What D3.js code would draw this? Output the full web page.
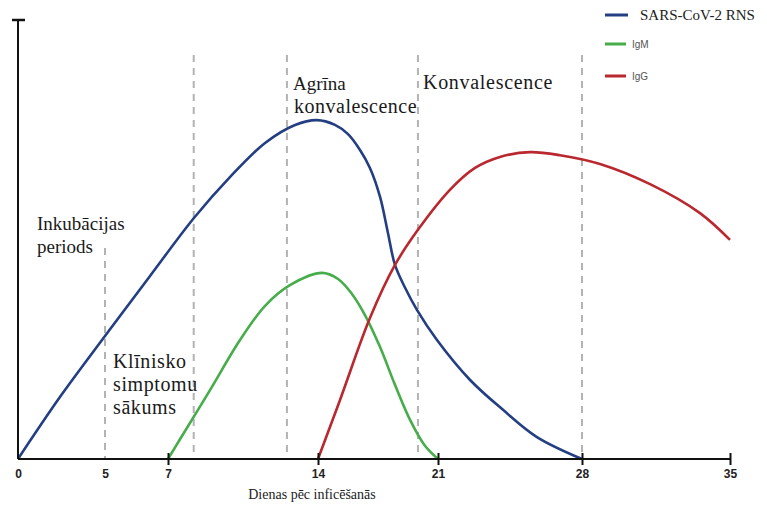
<!DOCTYPE html>
<html>
<head>
<meta charset="utf-8">
<script src="https://cdn.jsdelivr.net/npm/d3@7/dist/d3.min.js"></script>
<style>
body{margin:0;background:#fff;}
svg{display:block;}
</style>
</head>
<body>
<div id="chart"></div>
<script>
// days on the axis (axis in the picture is hand drawn, not evenly spaced)
var tickDays = [0, 5, 7, 14, 21, 28, 35];
var tickPx   = [18, 105, 168, 318, 438, 582, 730];
var phaseLines = [5, 8.2, 12.55, 19.83, 28];

// [day, relative level]
var rnaData = [[0,0],[2.41,14.1],[5,28.0],[6.43,41.7],[8.21,54.9],[9.89,64.2],[11.53,72.0],
  [12.93,76.1],[13.95,77.2],[14.99,76.1],[15.75,74.0],[16.45,70.4],[17.03,66.3],[17.62,59.7],
  [18.08,51.5],[18.49,44.2],[19.08,39.0],[19.78,33.9],[20.94,27.1],[22.56,18.0],[24.16,11.2],
  [25.81,5.0],[28,0]];
var igmData = [[7,0],[7.56,4.5],[8.96,15.7],[10.36,27.1],[11.53,34.9],[12.69,39.6],[14.23,42.4],
  [15.17,41.0],[15.98,37.6],[16.74,32.8],[17.62,25.5],[18.49,16.9],[19.37,8.9],[20.24,3.0],[21,0]];
var iggData = [[14,0],[15.28,13.4],[17.03,32.1],[18.49,44.2],[19.83,52.2],[21.58,61.3],[22.8,66.3],
  [24.01,68.8],[25.47,69.9],[26.93,69.2],[28.85,67.2],[31.22,62.6],[33.58,56.0],[35,49.9]];

var seriesNames = ["SARS-CoV-2 RNS", "IgM", "IgG"];
var colors = ["#233e82", "#46ad4a", "#b9282f"];

var width = 767, height = 511;
var svg = d3.select("#chart").append("svg")
  .attr("width", width)
  .attr("height", height);

var x = d3.scaleLinear().domain(tickDays).range(tickPx);
var y = d3.scaleLinear().domain([0, 100]).range([459, 20]);

var serif = "'Liberation Serif', 'Times New Roman', serif";

// dashed phase borders
svg.append("g")
  .selectAll("line")
  .data(phaseLines)
  .enter().append("line")
  .attr("x1", function(d){ return x(d); })
  .attr("x2", function(d){ return x(d); })
  .attr("y1", function(d){ return d == 5 ? 248 : 55; })
  .attr("y2", y(0))
  .style("stroke", "#b3b3b3")
  .style("stroke-width", 2)
  .style("stroke-dasharray", "7,6");

var line = d3.line()
  .x(function(d){ return x(d[0]); })
  .y(function(d){ return y(d[1]); })
  .curve(d3.curveCatmullRom.alpha(0.5));

[rnaData, igmData, iggData].forEach(function(s, i){
  svg.append("path")
    .datum(s)
    .attr("d", line)
    .style("fill", "none")
    .style("stroke", colors[i])
    .style("stroke-width", 2.6);
});

// x axis
var xAxis = svg.append("g")
  .attr("transform", "translate(0," + y(0) + ")")
  .call(d3.axisBottom(x).tickValues(tickDays).tickSizeOuter(0).tickFormat(d3.format("d")));
xAxis.select(".domain")
  .attr("d", "M" + x(0) + ",0H" + (x(35) + 1))
  .style("stroke", "#111")
  .style("stroke-width", 2);
xAxis.selectAll(".tick line")
  .attr("y1", -6).attr("y2", 6)
  .style("stroke", "#111")
  .style("stroke-width", 2)
  .style("display", function(d){ return d < 7 ? "none" : null; });
xAxis.selectAll(".tick text")
  .attr("y", 10)
  .style("font-family", "'Liberation Sans', Arial, sans-serif")
  .style("font-weight", "bold")
  .style("font-size", "12px")
  .style("fill", "#222");

// y axis (no scale marks)
svg.append("line")
  .attr("x1", x(0)).attr("x2", x(0))
  .attr("y1", y(100)).attr("y2", y(0))
  .style("stroke", "#111").style("stroke-width", 2);
svg.append("line")
  .attr("x1", x(0) - 6).attr("x2", x(0) + 7)
  .attr("y1", y(100)).attr("y2", y(100))
  .style("stroke", "#111").style("stroke-width", 2.5);

svg.append("text")
  .attr("x", 312).attr("y", 499)
  .attr("text-anchor", "middle")
  .style("font-family", serif)
  .style("font-size", "14px")
  .style("fill", "#222")
  .text("Dienas pēc inficēšanās");

// phase labels
var phaseText = [
  {x: 37, y: 230, size: 19, sp: 0, lines: ["Inkubācijas", "periods"]},
  {x: 113, y: 368, size: 20, sp: 0.6, lines: ["Klīnisko", "simptomu", "sākums"]},
  {x: 293, y: 90, size: 19, sp: 0, lines: ["Agrīna"]},
  {x: 294, y: 113, size: 20, sp: 0.5, lines: ["konvalescence"]},
  {x: 423, y: 89, size: 20, sp: 0.7, lines: ["Konvalescence"]}
];
phaseText.forEach(function(p){
  var t = svg.append("text")
    .attr("x", p.x).attr("y", p.y)
    .style("font-family", serif)
    .style("font-size", p.size + "px")
    .style("letter-spacing", p.sp + "px")
    .style("fill", "#1a1a1a");
  p.lines.forEach(function(l, i){
    t.append("tspan").attr("x", p.x).attr("dy", i == 0 ? 0 : 23).text(l);
  });
});

// legend
var legY = [15, 44, 76];
var leg = svg.append("g");
seriesNames.forEach(function(n, i){
  leg.append("line")
    .attr("x1", 605).attr("x2", i == 0 ? 628 : 626)
    .attr("y1", legY[i]).attr("y2", legY[i])
    .style("stroke", colors[i]).style("stroke-width", 3);
  leg.append("text")
    .attr("x", i == 0 ? 640 : 632)
    .attr("y", legY[i] + (i == 0 ? 5 : 4))
    .style("font-family", i == 0 ? serif : "'Liberation Sans', Arial, sans-serif")
    .style("font-size", i == 0 ? "15px" : "10px")
    .style("fill", i == 0 ? "#222" : "#555")
    .text(n);
});
</script>
</body>
</html>
